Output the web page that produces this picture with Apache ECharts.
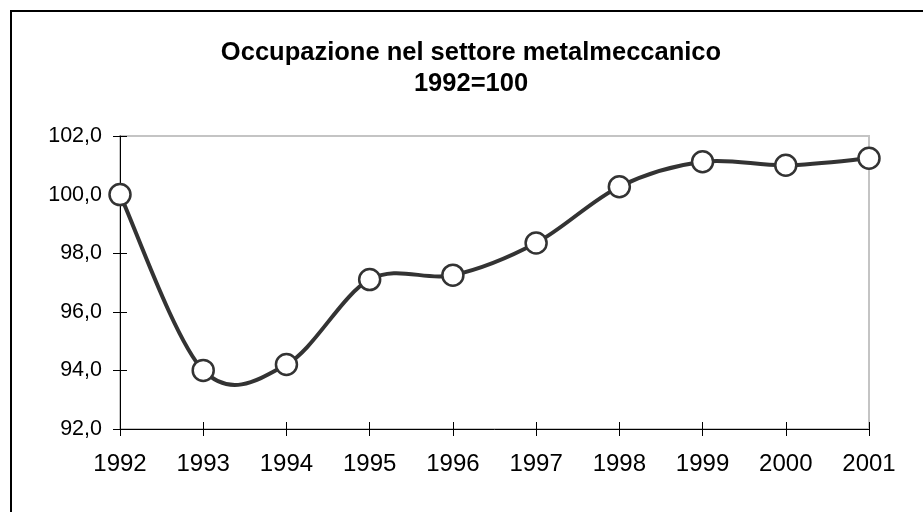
<!DOCTYPE html>
<html>
<head>
<meta charset="utf-8">
<script src="https://cdn.jsdelivr.net/npm/echarts@6/dist/echarts.min.js"></script>
<style>
  html, body { margin: 0; padding: 0; background: #fff; }
  #chart { width: 923px; height: 512px; }
</style>
</head>
<body>
<div id="chart"></div>
<script>
'use strict';

const years = ['1992', '1993', '1994', '1995', '1996', '1997', '1998', '1999', '2000', '2001'];
const occupazione = [100.0, 94.0, 94.2, 97.1, 97.25, 98.35, 100.27, 101.12, 101.0, 101.24];
const titleLines = ['Occupazione nel settore metalmeccanico', '1992=100'];

(function () {
  const chart = echarts.init(document.getElementById('chart'));
  const FONT = 'Liberation Sans, Arial, sans-serif';
  const fmt = (v) => v.toFixed(1).replace('.', ',');

  const yBase = {
    type: 'value',
    position: 'left',
    min: 92,
    max: 102,
    interval: 2,
    splitLine: { show: false },
  };
  const xBase = {
    type: 'category',
    position: 'bottom',
    data: years,
    boundaryGap: false,
    splitLine: { show: false },
  };

  // Spreadsheet-style smoothed line: one cubic Bezier per segment,
  // control points from the neighbours (Catmull-Rom, tension 1/6).
  const pt = (api, i) => {
    const j = Math.max(0, Math.min(occupazione.length - 1, i));
    return api.coord([j, occupazione[j]]);
  };
  const renderSegment = (params, api) => {
    const i = params.dataIndex;
    if (i >= occupazione.length - 1) return null;
    const p0 = pt(api, i - 1);
    const p1 = pt(api, i);
    const p2 = pt(api, i + 1);
    const p3 = pt(api, i + 2);
    return {
      type: 'bezierCurve',
      shape: {
        x1: p1[0], y1: p1[1],
        x2: p2[0], y2: p2[1],
        cpx1: p1[0] + (p2[0] - p0[0]) / 6,
        cpy1: p1[1] + (p2[1] - p0[1]) / 6,
        cpx2: p2[0] - (p3[0] - p1[0]) / 6,
        cpy2: p2[1] - (p3[1] - p1[1]) / 6,
      },
      style: { fill: 'none', stroke: '#333', lineWidth: 4, lineCap: 'round' },
    };
  };

  chart.setOption({
    animation: false,
    backgroundColor: '#fff',
    graphic: [
      // outer frame (right/bottom edges fall outside the picture)
      { type: 'rect', shape: { x: 11, y: 11, width: 940, height: 540 },
        style: { fill: 'none', stroke: '#000', lineWidth: 2 }, z: 100 },
      { type: 'text', x: 471, y: 53,
        style: { text: titleLines[0], font: 'bold 25.5px ' + FONT, fill: '#000', align: 'center', verticalAlign: 'middle' } },
      { type: 'text', x: 471, y: 84,
        style: { text: titleLines[1], font: 'bold 25.5px ' + FONT, fill: '#000', align: 'center', verticalAlign: 'middle' } },
    ],
    grid: {
      left: 120, right: 54, top: 136, bottom: 83,
      show: true, borderColor: '#c4c4c4', borderWidth: 2,
    },
    xAxis: [
      Object.assign({}, xBase, {
        axisLine: { lineStyle: { color: '#000', width: 1 } },
        axisTick: { show: true, inside: false, length: 7, alignWithLabel: true, lineStyle: { color: '#000' } },
        axisLabel: { color: '#000', fontFamily: FONT, fontSize: 24, margin: 23 },
      }),
      // second pass for the inward half of the crossing ticks
      Object.assign({}, xBase, {
        axisLine: { show: false },
        axisTick: { show: true, inside: true, length: 7, lineStyle: { color: '#000' } },
        axisLabel: { show: false },
      }),
    ],
    yAxis: [
      Object.assign({}, yBase, {
        axisLine: { show: true, lineStyle: { color: '#000', width: 1 } },
        axisTick: { show: true, inside: false, length: 7, lineStyle: { color: '#000' } },
        axisLabel: { color: '#000', fontFamily: FONT, fontSize: 21.5, margin: 18, formatter: fmt },
      }),
      Object.assign({}, yBase, {
        axisLine: { show: false },
        axisTick: { show: true, inside: true, length: 7, lineStyle: { color: '#000' } },
        axisLabel: { show: false },
      }),
    ],
    series: [
      {
        type: 'custom',
        renderItem: renderSegment,
        data: occupazione.map((v, i) => [i, v]),
        encode: { x: 0, y: 1 },
        z: 4,
      },
      {
        type: 'scatter',
        data: occupazione.map((v, i) => [i, v]),
        symbol: 'circle',
        symbolSize: 21,
        itemStyle: { color: '#fff', borderColor: '#333', borderWidth: 2.5, opacity: 1 },
        z: 5,
      },
    ],
  });
})();
</script>
</body>
</html>
